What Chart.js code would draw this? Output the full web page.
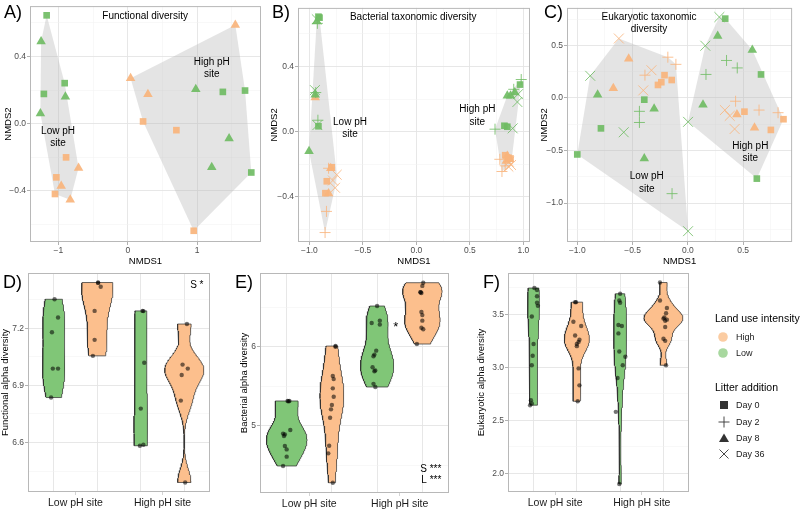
<!DOCTYPE html>
<html>
<head>
<meta charset="utf-8">
<title>Diversity panels</title>
<script src="https://cdn.jsdelivr.net/npm/chart.js@4.4.1/dist/chart.umd.min.js"></script>
<style>
  body { margin: 0; background: #fff; }
  #fig { position: relative; width: 800px; height: 511px; overflow: hidden; font-family: "Liberation Sans", Arial, sans-serif; }
  #fig canvas { position: absolute; left: 0; top: 0; }
  .tag { position: absolute; font-size: 18px; line-height: 20px; color: #000; }
  .leg { position: absolute; font-size: 9px; line-height: 12px; color: #1a1a1a; white-space: nowrap; }
  .legt { font-size: 10.5px; color: #000; }
  .sym { position: absolute; }
</style>
</head>
<body>
<div id="fig">
  <canvas id="chartA" width="800" height="511"></canvas>
  <canvas id="chartB" width="800" height="511"></canvas>
  <canvas id="chartC" width="800" height="511"></canvas>
  <canvas id="chartD" width="800" height="511"></canvas>
  <canvas id="chartE" width="800" height="511"></canvas>
  <canvas id="chartF" width="800" height="511"></canvas>

  <div class="tag" style="left:4px;top:2px">A)</div>
  <div class="tag" style="left:272px;top:2px">B)</div>
  <div class="tag" style="left:544px;top:2px">C)</div>
  <div class="tag" style="left:3px;top:272px">D)</div>
  <div class="tag" style="left:235px;top:272px">E)</div>
  <div class="tag" style="left:483px;top:272px">F)</div>

  <!-- legend -->
  <div class="leg legt" style="left:715px;top:312px">Land use intensity</div>
  <svg class="sym" width="12" height="12" style="left:717px;top:331px"><circle cx="6" cy="6" r="4.8" fill="#fbcca2"/></svg>
  <div class="leg" style="left:736px;top:331px">High</div>
  <svg class="sym" width="12" height="12" style="left:717px;top:347px"><circle cx="6" cy="6" r="4.8" fill="#a8d89f"/></svg>
  <div class="leg" style="left:736px;top:347px">Low</div>
  <div class="leg legt" style="left:715px;top:381px">Litter addition</div>
  <svg class="sym" width="12" height="12" style="left:718px;top:399px"><rect x="2" y="2" width="8" height="8" fill="#333"/></svg>
  <div class="leg" style="left:736px;top:399px">Day 0</div>
  <svg class="sym" width="12" height="12" style="left:718px;top:416px"><path d="M6 0.5V11.5M0.5 6H11.5" stroke="#333" stroke-width="0.9"/></svg>
  <div class="leg" style="left:736px;top:416px">Day 2</div>
  <svg class="sym" width="12" height="12" style="left:718px;top:432px"><path d="M6 1.5L11 10H1Z" fill="#333"/></svg>
  <div class="leg" style="left:736px;top:432px">Day 8</div>
  <svg class="sym" width="12" height="12" style="left:718px;top:448px"><path d="M1.5 1.5L10.5 10.5M10.5 1.5L1.5 10.5" stroke="#333" stroke-width="0.9"/></svg>
  <div class="leg" style="left:736px;top:448px">Day 36</div>
</div>

<script>
// ---- data ----------------------------------------------------------------

const sites = ["Low pH site", "High pH site"];

// A) functional diversity NMDS
const funcX = [-1.17, -0.91, -1.21, -1.25, -0.90, -1.26, -0.89, -1.03, -1.05, -0.71, -0.96, -0.83,
               1.37, 1.69, 1.78, 0.98, 1.46, 1.21, 0.22, 0.70, 0.95, 1.55, 0.04, 0.29];
const funcY = [0.645, 0.241, 0.177, 0.489, 0.160, 0.060, -0.201, -0.320, -0.419, -0.265, -0.371, -0.454,
               0.189, 0.197, -0.291, 0.205, -0.088, -0.260, 0.013, -0.039, -0.638, 0.587, 0.271, 0.175];
const funcSite = ["L","L","L","L","L","L","L","L","L","L","L","L",
                  "H","H","H","H","H","H","H","H","H","H","H","H"];
const funcLand = ["Low","Low","Low","Low","Low","Low","High","High","High","High","High","High",
                  "Low","Low","Low","Low","Low","Low","High","High","High","High","High","High"];
const funcDay = [0,0,0,8,8,8,0,0,0,8,8,8, 0,0,0,8,8,8,0,0,0,8,8,8];

// B) bacterial taxonomic diversity NMDS
const bactX = [-0.915, -0.915, -0.905, -0.925, -0.92, -0.94, -0.93, -0.945, -1.003, -0.93, -0.948, -0.925,
               -0.791, -0.837, -0.85, -0.82, -0.84, -0.853, -0.945, -0.82, -0.80, -0.744, -0.76, -0.78,
               0.969, 0.823, 0.85, 0.98, 0.91, 0.735, 0.88, 0.85, 0.92, 0.944, 0.90, 0.95,
               0.83, 0.86, 0.88, 0.78, 0.83, 0.80, 0.85, 0.84, 0.87, 0.86, 0.885, 0.865];
const bactY = [0.706, 0.033, 0.70, 0.665, 0.07, 0.24, 0.677, 0.226, -0.12, 0.69, 0.255, 0.04,
               -0.219, -0.305, -0.378, -0.225, -0.49, -0.62, 0.21, -0.38, -0.225, -0.265, -0.345, -0.30,
               0.289, 0.036, 0.03, 0.32, 0.26, 0.015, 0.22, 0.22, 0.24, 0.182, 0.02, 0.23,
               -0.145, -0.16, -0.165, -0.17, -0.21, -0.245, -0.15, -0.18, -0.17, -0.215, -0.205, -0.185];
const bactSite = ["L","L","L","L","L","L","L","L","L","L","L","L","L","L","L","L","L","L","L","L","L","L","L","L",
                  "H","H","H","H","H","H","H","H","H","H","H","H","H","H","H","H","H","H","H","H","H","H","H","H"];
const bactLand = ["Low","Low","Low","Low","Low","Low","Low","Low","Low","Low","Low","Low",
                  "High","High","High","High","High","High","High","High","High","High","High","High",
                  "Low","Low","Low","Low","Low","Low","Low","Low","Low","Low","Low","Low",
                  "High","High","High","High","High","High","High","High","High","High","High","High"];
const bactDay = [0,0,0,2,2,2,8,8,8,36,36,36, 0,0,0,2,2,2,8,8,8,36,36,36,
                 0,0,0,2,2,2,8,8,8,36,36,36, 0,0,0,2,2,2,8,8,8,36,36,36];

// C) eukaryotic taxonomic diversity NMDS
const eukX = [-0.394, -0.786, -1.0, -0.438, -0.438, -0.143, -0.816, -0.305, -0.394, -0.883, -0.58, 0.002,
              -0.211, -0.27, -0.146, -0.24, -0.181, -0.108, -0.388, -0.535, -0.674, -0.624, -0.329, -0.403,
              0.338, 0.662, 0.624, 0.35, 0.447, 0.164, 0.27, 0.583, 0.137, 0.285, 0.158, 0.002,
              0.512, 0.751, 0.865, 0.432, 0.644, 0.816, 0.444, 0.603, 0.335, 0.379, 0.423];
const eukY = [-0.016, -0.289, -0.537, -0.127, -0.233, -0.910, 0.031, -0.103, -0.575, 0.211, -0.326, -1.267,
              0.217, 0.124, 0.171, 0.15, 0.388, 0.32, 0.217, 0.373, 0.093, 0.566, 0.264, 0.072,
              0.755, 0.224, -0.767, 0.357, 0.286, 0.224, 0.59, 0.457, -0.065, 0.770, 0.497, -0.227,
              -0.130, -0.304, -0.202, -0.031, -0.115, -0.140, -0.156, -0.283, -0.115, -0.17, -0.295];
const eukSite = ["L","L","L","L","L","L","L","L","L","L","L","L","L","L","L","L","L","L","L","L","L","L","L","L",
                 "H","H","H","H","H","H","H","H","H","H","H","H","H","H","H","H","H","H","H","H","H","H","H"];
const eukLand = ["Low","Low","Low","Low","Low","Low","Low","Low","Low","Low","Low","Low",
                 "High","High","High","High","High","High","High","High","High","High","High","High",
                 "Low","Low","Low","Low","Low","Low","Low","Low","Low","Low","Low","Low",
                 "High","High","High","High","High","High","High","High","High","High","High"];
const eukDay = [0,0,0,2,2,2,8,8,8,36,36,36, 0,0,0,0,2,2,2,8,8,36,36,36,
                0,0,0,2,2,2,8,8,8,36,36,36, 0,0,0,2,2,2,8,8,36,36,36];

// D) functional alpha diversity (values + jitter offsets)
const funcLowpH_Low = [7.352, 7.256, 7.179, 6.988, 6.988, 6.836];
const funcLowpH_LowJit = [0.01, 0.05, -0.02, -0.01, 0.05, -0.03];
const funcLowpH_High = [7.438, 7.418, 7.291, 7.139, 7.055, 7.44];
const funcLowpH_HighJit = [0.01, 0.04, -0.03, -0.03, -0.05, 0.01];
const funcHighpH_Low = [7.291, 7.29, 7.019, 6.778, 6.583, 6.588];
const funcHighpH_LowJit = [0.02, 0.03, 0.04, 0, -0.01, 0.03];
const funcHighpH_High = [7.222, 7.009, 6.988, 6.954, 6.820, 6.390];
const funcHighpH_HighJit = [0.03, -0.02, 0.04, -0.03, -0.04, 0.01];

// E) bacterial alpha diversity
const bactLowpH_Low = [5.313, 5.313, 4.946, 4.90, 4.89, 4.87, 4.743, 4.70, 4.608, 4.49, 5.31];
const bactLowpH_LowJit = [0.01, 0.03, 0.04, -0.04, -0.02, -0.03, -0.02, 0, 0, -0.04, 0.02];
const bactLowpH_High = [6.008, 6.00, 5.63, 5.59, 5.473, 5.367, 5.262, 5.207, 5.10, 4.747, 4.65, 4.278];
const bactLowpH_HighJit = [0.04, 0.04, 0.01, 0.02, 0.01, 0.02, 0, -0.01, -0.02, -0.03, -0.04, 0.01];
const bactHighpH_Low = [6.515, 6.30, 6.33, 6.28, 5.95, 5.90, 5.88, 5.74, 5.70, 5.69, 5.53, 5.49];
const bactHighpH_LowJit = [0, -0.06, 0.03, 0.03, -0.01, -0.03, -0.04, -0.05, -0.02, -0.03, -0.04, -0.02];
const bactHighpH_High = [6.81, 6.77, 6.69, 6.68, 6.44, 6.40, 6.33, 6.24, 6.22, 6.034, 6.69];
const bactHighpH_HighJit = [0.01, 0, -0.02, -0.01, -0.01, 0, 0, -0.01, 0.01, -0.06, -0.02];

// F) eukaryotic alpha diversity
const eukLowpH_Low = [3.748, 3.73, 3.67, 3.61, 3.58, 3.48, 3.22, 3.11, 3.02, 2.69, 2.66, 2.643];
const eukLowpH_LowJit = [0.01, 0.04, 0.04, 0.04, 0.05, -0.02, 0, -0.01, -0.02, -0.03, -0.02, -0.04];
const eukLowpH_High = [3.615, 3.615, 3.43, 3.39, 3.30, 3.26, 3.24, 3.22, 3.20, 2.99, 2.83, 2.68];
const eukLowpH_HighJit = [-0.02, -0.01, -0.04, 0.05, -0.02, 0.03, 0.02, 0, 0, 0.02, 0.03, 0.01];
const eukHighpH_Low = [3.694, 3.63, 3.61, 3.40, 3.39, 3.32, 3.15, 3.10, 3.02, 2.90, 2.58, 1.90];
const eukHighpH_LowJit = [0, -0.01, 0, -0.02, 0.02, -0.02, -0.01, 0.06, 0.03, -0.03, -0.05, -0.01];
const eukHighpH_High = [3.80, 3.63, 3.56, 3.51, 3.46, 3.44, 3.45, 3.47, 3.38, 3.27, 3.25, 3.02];
const eukHighpH_HighJit = [-0.04, -0.04, 0.04, 0.03, 0, 0.02, 0.04, 0.01, 0.02, 0, 0.02, 0.03];

// ---- styling ---------------------------------------------------------------

const FONT = '"Liberation Sans", Arial, sans-serif';
Chart.defaults.font.family = FONT;

const landColor = { Low: "rgba(112,188,100,0.92)", High: "rgba(249,180,124,0.92)" };
const violinColor = { Low: "#80c677", High: "#fcbf8d" };
const hullColor = "rgba(185,185,185,0.38)";
const dayShape = { 0: "rect", 2: "cross", 8: "triangle", 36: "crossRot" };
const daySize = { 0: 4.7, 2: 5.5, 8: 5.5, 36: 7 };
const DODGE = 0.25;
const HALF = 0.225;

const minus = (s) => s.replace("-", "\u2212");
const every = (s) => (v) => Math.abs(v / s - Math.round(v / s)) < 1e-6;

// fills the polygon through a dataset's points (hulls, violins)
const polyFillPlugin = {
  id: "polyFill",
  beforeDatasetDraw(chart, args) {
    const ds = chart.data.datasets[args.index];
    if (!ds.polyFill) return;
    const ctx = chart.ctx;
    const a = chart.chartArea;
    ctx.save();
    ctx.beginPath();
    ctx.rect(a.left, a.top, a.right - a.left, a.bottom - a.top);
    ctx.clip();
    ctx.beginPath();
    args.meta.data.forEach((p, i) => (i ? ctx.lineTo(p.x, p.y) : ctx.moveTo(p.x, p.y)));
    ctx.closePath();
    ctx.fillStyle = ds.polyFill;
    ctx.fill();
    ctx.restore();
  },
};

// text placed at data coordinates
const notesPlugin = {
  id: "notes",
  afterDatasetsDraw(chart, args, opts) {
    const ctx = chart.ctx;
    const sx = chart.scales.x, sy = chart.scales.y;
    (opts.items || []).forEach((n) => {
      const size = n.size || 10;
      const lines = n.text.split("\n");
      const lh = size * 1.25;
      const x = sx.getPixelForValue(n.x);
      const y0 = sy.getPixelForValue(n.y) - ((lines.length - 1) * lh) / 2;
      ctx.save();
      ctx.font = size + "px " + FONT;
      ctx.fillStyle = "#000";
      ctx.textAlign = n.align || "center";
      ctx.textBaseline = "middle";
      lines.forEach((l, i) => ctx.fillText(l, x, y0 + i * lh));
      ctx.restore();
    });
  },
};

// panel border
const framePlugin = {
  id: "frame",
  afterDatasetsDraw(chart) {
    const a = chart.chartArea, ctx = chart.ctx;
    ctx.save();
    ctx.strokeStyle = "#b8b8b8";
    ctx.lineWidth = 1;
    ctx.strokeRect(a.left + 0.5, a.top + 0.5, a.right - a.left - 1, a.bottom - a.top - 1);
    ctx.restore();
  },
};

Chart.register(polyFillPlugin, notesPlugin, framePlugin);

function linAxis(o) {
  const gridKind = o.grid;
  return {
    type: "linear",
    min: o.min,
    max: o.max,
    afterFit: (s) => {
      if (s.isHorizontal()) s.height = o.size;
      else s.width = o.size;
    },
    border: { display: false },
    grid: {
      color: (c) => ({ major: "#e4e4e4", minor: "#f1f1f1" })[gridKind(c.tick.value)] || "rgba(0,0,0,0)",
      lineWidth: (c) => (gridKind(c.tick.value) === "major" ? 0.9 : 0.5),
      tickLength: 3,
      tickColor: (c) => (o.label(c.tick.value) ? "#a8a8a8" : "rgba(0,0,0,0)"),
    },
    ticks: {
      stepSize: o.step,
      includeBounds: false,
      autoSkip: false,
      maxRotation: 0,
      padding: o.pad == null ? 1 : o.pad,
      color: o.color || "#4d4d4d",
      font: { size: o.font || 8.5 },
      callback: (v) => o.label(v),
    },
    title: o.title
      ? { display: true, text: o.title, color: "#000", font: { size: 9.5 }, padding: { top: 0, bottom: o.tpad || 0 } }
      : { display: false },
  };
}

function baseOptions(pad, x, y, notes) {
  return {
    responsive: false,
    animation: false,
    devicePixelRatio: 1,
    events: [],
    layout: { padding: pad },
    plugins: { legend: { display: false }, tooltip: { enabled: false }, notes: { items: notes || [] } },
    scales: { x, y },
  };
}

function convexHull(pts) {
  const p = [...pts].sort((a, b) => a.x - b.x || a.y - b.y);
  const cross = (o, a, b) => (a.x - o.x) * (b.y - o.y) - (a.y - o.y) * (b.x - o.x);
  const lower = [], upper = [];
  for (const q of p) {
    while (lower.length >= 2 && cross(lower[lower.length - 2], lower[lower.length - 1], q) <= 0) lower.pop();
    lower.push(q);
  }
  for (const q of p.slice().reverse()) {
    while (upper.length >= 2 && cross(upper[upper.length - 2], upper[upper.length - 1], q) <= 0) upper.pop();
    upper.push(q);
  }
  return lower.slice(0, -1).concat(upper.slice(0, -1));
}

function ordination(id, xs, ys, site, land, day, pad, x, y, notes) {
  const datasets = [];
  ["Low", "High"].forEach((lu) =>
    [0, 2, 8, 36].forEach((d) => {
      const pts = [];
      xs.forEach((v, i) => {
        if (land[i] === lu && day[i] === d) pts.push({ x: v, y: ys[i] });
      });
      if (!pts.length) return;
      const line = d === 2 || d === 36;
      datasets.push({
        data: pts,
        pointStyle: dayShape[d],
        pointRadius: daySize[d],
        backgroundColor: landColor[lu],
        borderColor: landColor[lu],
        borderWidth: line ? 0.9 : 0,
        order: 0,
      });
    })
  );
  ["L", "H"].forEach((s) => {
    const pts = [];
    xs.forEach((v, i) => {
      if (site[i] === s) pts.push({ x: v, y: ys[i] });
    });
    datasets.push({ data: convexHull(pts), polyFill: hullColor, showLine: false, pointRadius: 0, order: 5 });
  });
  new Chart(document.getElementById(id), { type: "scatter", data: { datasets }, options: baseOptions(pad, x, y, notes) });
}

// Gaussian kernel density, bandwidth as R's bw.nrd0, trimmed to the data range
function quantile(s, p) {
  const h = (s.length - 1) * p, lo = Math.floor(h);
  const hi = Math.min(lo + 1, s.length - 1);
  return s[lo] + (h - lo) * (s[hi] - s[lo]);
}
function bwNrd0(v) {
  const n = v.length;
  const m = v.reduce((a, b) => a + b, 0) / n;
  const sd = Math.sqrt(v.reduce((a, b) => a + (b - m) ** 2, 0) / (n - 1));
  const s = [...v].sort((a, b) => a - b);
  const iqr = (quantile(s, 0.75) - quantile(s, 0.25)) / 1.34;
  let lo = Math.min(sd, iqr);
  if (!(lo > 0)) lo = sd || 1;
  return 0.9 * lo * Math.pow(n, -0.2);
}
function density(v, n = 160) {
  const bw = bwNrd0(v);
  const lo = Math.min(...v), hi = Math.max(...v);
  const out = [];
  for (let i = 0; i < n; i++) {
    const y = lo + ((hi - lo) * i) / (n - 1);
    let d = 0;
    v.forEach((t) => {
      const z = (y - t) / bw;
      d += Math.exp(-0.5 * z * z);
    });
    out.push({ y, d: d / (v.length * bw * Math.sqrt(2 * Math.PI)) });
  }
  return out;
}

function violins(id, groups, pad, x, y, notes) {
  const dens = groups.map((g) => density(g.vals));
  const peak = Math.max(...dens.flat().map((p) => p.d));
  const datasets = [];
  groups.forEach((g, k) => {
    const c = g.cat + (g.land === "Low" ? -DODGE : DODGE);
    const right = dens[k].map((p) => ({ x: c + (p.d / peak) * HALF, y: p.y }));
    const left = dens[k].slice().reverse().map((p) => ({ x: c - (p.d / peak) * HALF, y: p.y }));
    const outline = right.concat(left);
    outline.push(outline[0]);
    datasets.push({
      data: outline,
      showLine: true,
      polyFill: violinColor[g.land],
      borderColor: "#2b2b2b",
      borderWidth: 0.7,
      pointRadius: 0,
      order: 5,
    });
    datasets.push({
      data: g.vals.map((v, i) => ({ x: c + g.jit[i], y: v })),
      pointRadius: 2.2,
      backgroundColor: "rgba(0,0,0,0.55)",
      borderWidth: 0,
      order: 0,
    });
  });
  new Chart(document.getElementById(id), { type: "scatter", data: { datasets }, options: baseOptions(pad, x, y, notes) });
}

// ---- top row: NMDS ordinations --------------------------------------------

ordination("chartA", funcX, funcY, funcSite, funcLand, funcDay,
  { left: 3, top: 3, right: 539, bottom: 241 },
  linAxis({ min: -1.41, max: 1.92, step: 0.5, size: 28, title: "NMDS1", tpad: 3,
    grid: (v) => (every(1)(v) ? "major" : "minor"),
    label: (v) => (every(1)(v) ? minus(String(Math.round(v))) : "") }),
  linAxis({ min: -0.705, max: 0.70, step: 0.2, size: 27, title: "NMDS2",
    grid: (v) => (every(0.4)(v) ? "major" : "minor"),
    label: (v) => (every(0.4)(v) ? minus(v.toFixed(1)) : "") }),
  [
    { x: 0.25, y: 0.64, text: "Functional diversity" },
    { x: 1.21, y: 0.33, text: "High pH\nsite" },
    { x: -1.006, y: -0.082, text: "Low pH\nsite" },
  ]);

ordination("chartB", bactX, bactY, bactSite, bactLand, bactDay,
  { left: 269, top: 3, right: 270, bottom: 241 },
  linAxis({ min: -1.106, max: 1.062, step: 0.25, size: 28, title: "NMDS1", tpad: 3,
    grid: (v) => (every(0.5)(v) ? "major" : "minor"),
    label: (v) => (every(0.5)(v) ? minus(v.toFixed(1)) : "") }),
  linAxis({ min: -0.678, max: 0.76, step: 0.2, size: 29, title: "NMDS2",
    grid: (v) => (every(0.4)(v) ? "major" : "minor"),
    label: (v) => (every(0.4)(v) ? minus(v.toFixed(1)) : "") }),
  [
    { x: -0.029, y: 0.70, text: "Bacterial taxonomic diversity" },
    { x: -0.62, y: 0.021, text: "Low pH\nsite" },
    { x: 0.57, y: 0.096, text: "High pH\nsite" },
  ]);

ordination("chartC", eukX, eukY, eukSite, eukLand, eukDay,
  { left: 539, top: 3, right: 3, bottom: 241 },
  linAxis({ min: -1.093, max: 0.943, step: 0.25, size: 28, title: "NMDS1", tpad: 3,
    grid: (v) => (every(0.5)(v) ? "major" : "minor"),
    label: (v) => (every(0.5)(v) ? minus(v.toFixed(1)) : "") }),
  linAxis({ min: -1.37, max: 0.857, step: 0.25, size: 28, title: "NMDS2",
    grid: (v) => (every(0.5)(v) ? "major" : "minor"),
    label: (v) => (every(0.5)(v) ? minus(v.toFixed(1)) : "") }),
  [
    { x: -0.351, y: 0.71, text: "Eukaryotic taxonomic\ndiversity" },
    { x: 0.565, y: -0.517, text: "High pH\nsite" },
    { x: -0.372, y: -0.805, text: "Low pH\nsite" },
  ]);

// ---- bottom row: alpha diversity violins ------------------------------------

function siteAxis(size) {
  return linAxis({ min: 0.455, max: 2.545, step: 0.25, size, pad: 2, font: 10.5, color: "#1a1a1a",
    grid: (v) => (every(0.5)(v) ? null : "major"),
    label: (v) => (every(1)(v) ? sites[Math.round(v) - 1] || "" : "") });
}

violins("chartD", [
    { cat: 1, land: "Low", vals: funcLowpH_Low, jit: funcLowpH_LowJit },
    { cat: 1, land: "High", vals: funcLowpH_High, jit: funcLowpH_HighJit },
    { cat: 2, land: "Low", vals: funcHighpH_Low, jit: funcHighpH_LowJit },
    { cat: 2, land: "High", vals: funcHighpH_High, jit: funcHighpH_HighJit },
  ],
  { left: 0, top: 273, right: 590, bottom: 0 },
  siteAxis(19),
  linAxis({ min: 6.34, max: 7.49, step: 0.15, size: 28, title: "Functional alpha diversity",
    grid: (v) => (every(0.3)(v) ? "major" : "minor"),
    label: (v) => (every(0.3)(v) ? v.toFixed(1) : "") }),
  [{ x: 2.47, y: 7.427, text: "S *", align: "right" }]);

violins("chartE", [
    { cat: 1, land: "Low", vals: bactLowpH_Low, jit: bactLowpH_LowJit },
    { cat: 1, land: "High", vals: bactLowpH_High, jit: bactLowpH_HighJit },
    { cat: 2, land: "Low", vals: bactHighpH_Low, jit: bactHighpH_LowJit },
    { cat: 2, land: "High", vals: bactHighpH_High, jit: bactHighpH_HighJit },
  ],
  { left: 239, top: 273, right: 351, bottom: 0 },
  siteAxis(18),
  linAxis({ min: 4.148, max: 6.933, step: 0.5, size: 21, title: "Bacterial alpha diversity",
    grid: (v) => (every(1)(v) ? "major" : "minor"),
    label: (v) => (every(1)(v) ? String(Math.round(v)) : "") }),
  [
    { x: 1.957, y: 6.24, text: "*", size: 13 },
    { x: 2.46, y: 4.452, text: "S ***", align: "right" },
    { x: 2.46, y: 4.313, text: "L ***", align: "right" },
  ]);

violins("chartF", [
    { cat: 1, land: "Low", vals: eukLowpH_Low, jit: eukLowpH_LowJit },
    { cat: 1, land: "High", vals: eukLowpH_High, jit: eukLowpH_HighJit },
    { cat: 2, land: "Low", vals: eukHighpH_Low, jit: eukHighpH_LowJit },
    { cat: 2, land: "High", vals: eukHighpH_High, jit: eukHighpH_HighJit },
  ],
  { left: 476, top: 273, right: 111, bottom: 0 },
  siteAxis(19),
  linAxis({ min: 1.824, max: 3.89, step: 0.25, size: 32, title: "Eukaryotic alpha diversity",
    grid: (v) => (every(0.5)(v) ? "major" : "minor"),
    label: (v) => (every(0.5)(v) ? v.toFixed(1) : "") }),
  []);
</script>
</body>
</html>
